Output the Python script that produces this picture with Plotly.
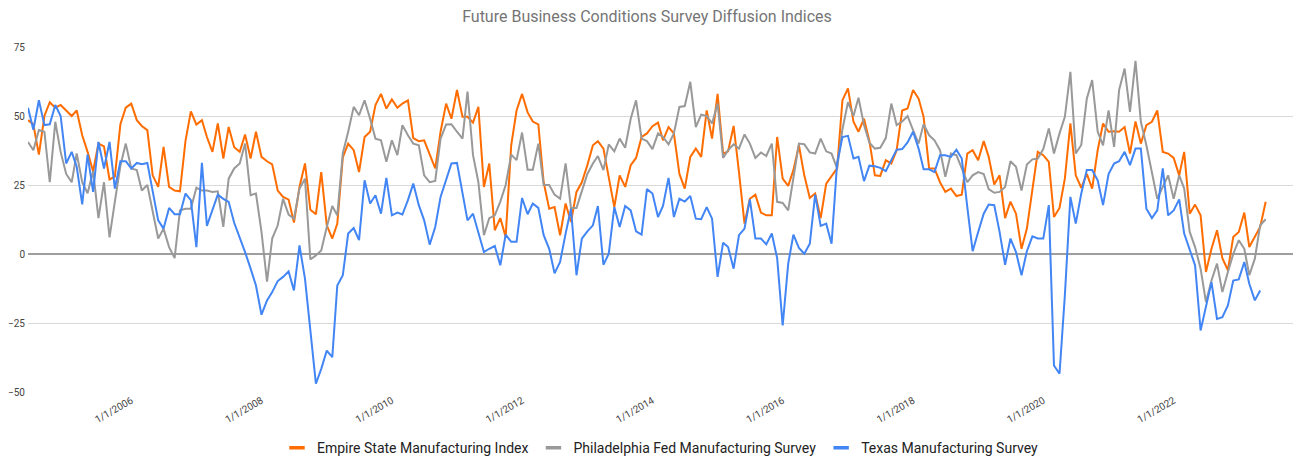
import pandas as pd
import plotly.graph_objects as go

# Monthly observations starting June 2004
start_month = "2004-06-01"

empire = [48.5, 47, 36, 50, 55, 53, 54, 52, 50, 52, 43, 37, 30, 40, 39, 27, 28, 47, 53, 54.5,
          48.5, 46.4, 44.9, 28.5, 24.3, 38.8, 24.3, 23, 22.7, 41, 51.7, 46.9, 48.5, 42.4, 37, 47.3, 34.6, 46, 38.7, 37,
          43.3, 34.6, 44.3, 35.2, 33.6, 32.5, 23, 20.7, 19.7, 11.4, 24.3, 32.8, 16, 14.4, 29.7, 10.4, 5.6, 11, 35, 40,
          37.6, 29.7, 42.4, 44.3, 54, 58, 52.7, 56, 53, 54.5, 55.7, 42, 40.9, 41.2, 35.8, 31, 44.3, 54.5, 49, 59.4,
          49.7, 49.7, 47.6, 53.3, 24.3, 32.8, 8.6, 13, 6.2, 39.4, 52, 58, 51.3, 48, 47, 26, 16.4, 17, 6.8, 18.3,
          11.6, 22.5, 26, 32.2, 39.4, 40.9, 38.2, 27.3, 17, 28.5, 24.3, 32.2, 34.8, 42.4, 43.7, 46.3, 47.6, 41.2, 46, 43.7,
          29, 23.7, 35.2, 38.2, 35.2, 52, 41.8, 58, 36.4, 37.2, 46.4, 29.7, 11, 20, 21.5, 15, 14, 14, 42.4, 27.3,
          24.7, 30.4, 39.4, 28.5, 20.3, 21.9, 13, 25.5, 28, 31, 55.7, 60, 47.9, 44.3, 49, 41, 28.5, 28.3, 34, 32.8,
          37.6, 52, 52.7, 59.4, 56.3, 49.7, 31, 31, 26, 22.5, 23.7, 21, 21.5, 36.4, 37.6, 34, 40.9, 35.2, 25.2, 28.5,
          13, 19, 14.6, 1.9, 9.2, 23, 37, 35.8, 33.4, 13.4, 16.7, 27.3, 47.3, 28.5, 24, 29, 23.7, 37.6, 47.3, 44.3,
          44.5, 44.3, 46, 36.4, 48, 40, 46.7, 47.9, 52, 37, 36.4, 34.8, 28.5, 37, 14.6, 17.9, 14, -6.5, 1.9, 8.6,
          -1.5, -5.9, 6.2, 8, 15, 2.5, 6.2, 9.8, 18.9]

philly = [40.6, 37.6, 44.9, 44.3, 26, 47.9, 37, 29, 26, 36.4, 26, 22, 30, 13, 26, 6, 19, 32, 40, 31,
          30.4, 23, 25, 15, 5.6, 9.2, 2.5, -1.5, 15.8, 16.4, 16.4, 24, 23, 23, 22.5, 22.7, 9.8, 27.3, 31, 32.8,
          40, 21.3, 21.9, 8, -10, 5.6, 10.4, 20, 14.3, 12.8, 23.7, 27.3, -2, -0.5, 1.3, 9.8, 17.4, 14, 36.5, 44.3,
          53.3, 50.3, 55.7, 49, 41.8, 41.2, 33.4, 41.2, 35.8, 46.7, 43, 40, 39.4, 28.5, 26, 26.5, 41.8, 46.9, 47, 44.3,
          41.8, 58.8, 35.8, 26, 6.8, 13, 14, 19, 25, 36, 34, 44, 30.5, 30.5, 40, 25, 25, 21.5, 20, 32.8,
          16.7, 16.7, 22.5, 29, 32.8, 35.5, 30.4, 39.7, 37.2, 41.8, 38.5, 49, 55.7, 41.8, 40.9, 38, 43.7, 42.4, 39.7, 43.7,
          53.3, 53.6, 62.4, 46, 50.5, 50, 47.3, 54.5, 34.8, 37.6, 39.7, 38.2, 43.3, 40, 34.8, 36.8, 35.5, 40, 18.9, 18.5,
          15.8, 27.3, 40, 39.8, 36.8, 36.4, 41.8, 37.2, 36.4, 31, 45.2, 55, 50, 56.6, 46.7, 40.3, 38.2, 38.5, 42, 54.5,
          46.7, 48, 50, 44.9, 40, 47, 43, 41.2, 37.6, 28, 36.4, 35.8, 31, 26, 28.5, 29.7, 29, 23.5, 22.2, 22.5,
          24.3, 33.6, 31.6, 23, 32.4, 34.3, 34.6, 38, 45.5, 36.4, 43.7, 49.7, 66, 36.4, 39.5, 56.3, 63, 44.3, 39.4, 52,
          38.8, 59.4, 67.2, 51.5, 70, 47.9, 39.4, 29.7, 20, 24.3, 28.5, 20, 28.5, 23.7, 8, 2.5, -5.3, -17.4, -9.6, -3.5,
          -13.8, -6.5, 0, 5, 1.9, -7.7, -1.7, 10.4, 12.6]

texas = [53, 45, 55.7, 46.7, 47, 54, 50, 32.8, 37, 31.6, 18, 36, 22.5, 40.6, 31, 40.6, 23.7, 33.6, 33.6, 31,
         33, 32.5, 33, 22.5, 12.2, 9.2, 16.7, 14.4, 14.4, 21.9, 19.5, 2.5, 33, 10.2, 15.8, 21.5, 20, 18.9, 11.3, 6,
         0.7, -5.3, -11.4, -22, -16.8, -13.8, -9.8, -8.3, -6.3, -13.2, 3.1, -9, -27, -47, -41.6, -35, -37.4, -11.4, -7.7, 7.4,
         9.4, 5, 26.7, 18.3, 21.3, 14.6, 27.6, 14, 15, 14.3, 19.5, 25.5, 17.7, 12.2, 3.4, 9.8, 20.7, 27, 32.8, 33,
         22.5, 12.2, 14.6, 8, 0.7, 1.9, 2.9, -4.1, 7, 4.4, 4.4, 20.3, 14.4, 18.3, 16.7, 6.8, 1.9, -7, -2.9, 7.4,
         16.4, -7.7, 5.6, 8.2, 10.4, 17.4, -3.9, 0.1, 17, 9.8, 17.4, 15.8, 8.2, 7, 23.5, 21.9, 13.4, 17.4, 27.6, 13.4,
         20, 19, 21, 12.8, 12.6, 17, 12.8, -8.3, 4.1, 2.5, -5.3, 6.8, 9.2, 19.8, 5.6, 5.6, 3.5, 7.4, -1.5, -25.9,
         -3.5, 7, 2.2, 0.1, 3.7, 21.5, 10.2, 11, 3.7, 32.8, 42.4, 42.8, 34.6, 35.2, 26.4, 32, 31.8, 31.2, 30, 34,
         37.8, 38, 40.4, 44.3, 38.2, 30.7, 30.7, 29.7, 35.8, 35.8, 35.2, 37.8, 34.6, 17, 1, 8, 14.6, 17.9, 17.7, 8,
         -3.9, 5.6, 0.7, -7.7, 1, 6.4, 5.6, 5.6, 17.7, -40.4, -43.4, -15, 20.7, 11, 21.9, 30.4, 30.4, 26.7, 17.7, 29,
         32.8, 33.6, 37, 32.2, 38.2, 38.2, 16.4, 13, 15.8, 31, 14, 15.8, 19.8, 7.4, 1.9, -4.1, -27.7, -19.2, -10.2, -23.5,
         -22.9, -18.6, -9.6, -9.2, -2.9, -10.8, -16.8, -13.2]

series_names = ["Empire State Manufacturing Index", "Philadelphia Fed Manufacturing Survey",
                "Texas Manufacturing Survey"]
series_colors = ["#ff6d01", "#999999", "#4285f4"]

tick_dates = ["2006-01-01", "2008-01-01", "2010-01-01", "2012-01-01", "2014-01-01",
              "2016-01-01", "2018-01-01", "2020-01-01", "2022-01-01"]
tick_text = ["1/1/2006", "1/1/2008", "1/1/2010", "1/1/2012", "1/1/2014",
             "1/1/2016", "1/1/2018", "1/1/2020", "1/1/2022"]
y_ticks = [-50, -25, 0, 25, 50, 75]

fig = go.Figure()
for name, vals, col in zip(series_names, [empire, philly, texas], series_colors):
    dates = pd.date_range(start_month, periods=len(vals), freq="MS")
    fig.add_trace(go.Scatter(x=dates, y=vals, mode="lines", name=name,
                             line=dict(color=col, width=2), showlegend=False))
    # legend entry with a short line symbol
    fig.add_trace(go.Scatter(x=[None], y=[None], mode="markers", name=name,
                             marker=dict(symbol="line-ew", size=11,
                                         line=dict(color=col, width=3.5))))

fig.update_layout(
    width=1294, height=456,
    margin=dict(l=28, r=1, t=47, b=64, autoexpand=False),
    paper_bgcolor="white", plot_bgcolor="white",
    font=dict(family="Roboto, Arial, sans-serif", color="#222222"),
    title=dict(text="Future Business Conditions Survey Diffusion Indices",
               x=0.5, xanchor="center", y=0.965, yanchor="middle",
               font=dict(size=16, color="#757575", family="Roboto, Arial, sans-serif")),
    showlegend=True,
    legend=dict(orientation="h", x=0.5, xanchor="center", y=-0.163, yanchor="middle",
                font=dict(size=14, color="#222222"), itemwidth=30),
    hovermode=False,
)
fig.update_xaxes(type="date", range=["2004-06-01", "2023-11-01"],
                 tickvals=tick_dates, ticktext=tick_text, tickangle=-30,
                 tickfont=dict(size=10, color="#444444"), automargin=False,
                 showgrid=False, zeroline=False, showline=False, ticks="")
fig.update_yaxes(range=[-50, 75], tickvals=y_ticks, automargin=False,
                 tickfont=dict(size=10, color="#444444"),
                 showgrid=True, gridcolor="#d9d9d9", gridwidth=1,
                 zeroline=True, zerolinecolor="#9e9e9e", zerolinewidth=2,
                 showline=False, ticks="", ticklabelstandoff=2)

fig.write_html("out.html", config={"displayModeBar": False},
               post_script="document.body.style.margin='0';document.body.style.overflow='hidden';")
